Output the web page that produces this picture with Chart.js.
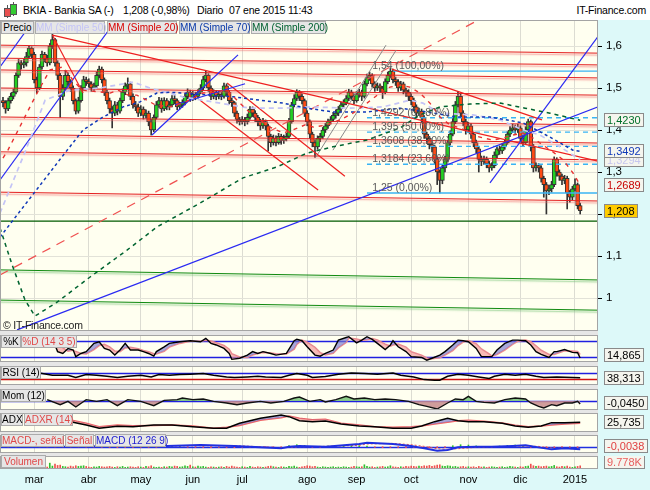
<!DOCTYPE html>
<html>
<head>
<meta charset="utf-8">
<script src="https://cdn.jsdelivr.net/npm/chart.js@4.4.1/dist/chart.umd.min.js"></script>
<style>
  body { margin: 0; width: 650px; height: 490px; position: relative; overflow: hidden; background: #e6e6e6;
         font-family: "Liberation Sans", Arial, sans-serif; }
  .abs { position: absolute; }
  #head { left: 0; top: 0; width: 650px; height: 20px; background: #fff; }
  #rightcol { left: 598px; top: 20px; width: 52px; height: 450px; background: #ddf9f9; }
  #xstrip { left: 0; top: 469px; width: 650px; height: 21px; background: #ddf9f9; }
  canvas { position: absolute; left: 0; }
  .txt { position: absolute; font-size: 10.5px; letter-spacing: -0.2px; white-space: nowrap; z-index: 5; }
  .tag { position: absolute; height: 11px; line-height: 11px; font-size: 10px; text-align: center;
         background: #e6e6e6; border: 1px solid #ababab; white-space: nowrap; z-index: 5; }
</style>
</head>
<body>
<div id="head" class="abs"></div>
<div id="rightcol" class="abs"></div>
<div id="xstrip" class="abs"></div>

<!-- little candle icon -->
<div class="abs" style="left:7px;top:5px;width:1px;height:13px;background:#555;z-index:5"></div>
<div class="abs" style="left:4px;top:8px;width:5px;height:7px;background:#e85050;border:1px solid #555;z-index:6"></div>
<div class="abs" style="left:13px;top:2px;width:1px;height:14px;background:#555;z-index:5"></div>
<div class="abs" style="left:10px;top:4px;width:5px;height:9px;background:#33cc33;border:1px solid #555;z-index:6"></div>

<span class="txt" style="left:23px;top:4px">BKIA - Bankia SA (-)</span>
<span class="txt" style="left:123px;top:4px">1,208 (-0,98%)</span>
<span class="txt" style="left:197px;top:4px">Diario</span>
<span class="txt" style="left:229px;top:4px">07 ene 2015 11:43</span>
<span class="txt" style="right:4px;top:4px">IT-Finance.com</span>

<span class="tag" style="left:1px;top:21px;width:31px">Precio</span>
<span class="tag" style="left:35px;top:21px;width:68px;color:#c4c4f6">MM (Simple 50)</span>
<span class="tag" style="left:107px;top:21px;width:68px;color:#d80000">MM (Simple 20)</span>
<span class="tag" style="left:179px;top:21px;width:69px;color:#0838a8">MM (Simple 70)</span>
<span class="tag" style="left:251px;top:21px;width:73px;color:#006030">MM (Simple 200)</span>

<span class="txt" style="left:3px;top:319px;font-size:10.5px;color:#222">&copy; IT-Finance.com</span>

<span class="tag" style="left:1px;top:335px;width:18px">%K</span>
<span class="tag" style="left:21px;top:335px;width:54px;color:#e04848">%D (14 3 5)</span>
<span class="tag" style="left:1px;top:366px;width:38px">RSI (14)</span>
<span class="tag" style="left:1px;top:389px;width:43px">Mom (12)</span>
<span class="tag" style="left:1px;top:413px;width:20px">ADX</span>
<span class="tag" style="left:24px;top:413px;width:47px;color:#e04848">ADXR (14)</span>
<span class="tag" style="left:1px;top:434px;width:61px;color:#e04848">MACD-, señal</span>
<span class="tag" style="left:65px;top:434px;width:27px;color:#e04848">Señal</span>
<span class="tag" style="left:95px;top:434px;width:69px;color:#2020d0">MACD (12 26 9)</span>
<span class="tag" style="left:1px;top:455px;width:43px;color:#e04848">Volumen</span>

<canvas id="cMain" width="650" height="311" style="top:20px"></canvas>
<canvas id="cStoch" width="650" height="27" style="top:335px"></canvas>
<canvas id="cRsi" width="650" height="19" style="top:366px"></canvas>
<canvas id="cMom" width="650" height="21" style="top:389px"></canvas>
<canvas id="cAdx" width="650" height="19" style="top:413px"></canvas>
<canvas id="cMacd" width="650" height="18" style="top:435px"></canvas>
<canvas id="cVol" width="650" height="34" style="top:456px"></canvas>

<script>
// ---------- values ----------
const monthLabels = ['mar', 'abr', 'may', 'jun', 'jul', 'ago', 'sep', 'oct', 'nov', 'dic', '2015'];
const monthStarts = [12, 33, 53, 73, 92, 117, 136, 157, 179, 199, 220];   // trading-day index of each month
const priceTicks = [1, 1.1, 1.2, 1.3, 1.4, 1.5, 1.6];

const opens = [1.47,1.465,1.45,1.47,1.48,1.49,1.53,1.56,1.555,1.56,
  1.575,1.595,1.58,1.52,1.50,1.55,1.58,1.57,1.56,1.60,
  1.615,1.56,1.53,1.48,1.50,1.53,1.515,1.50,1.47,1.445,
  1.47,1.50,1.52,1.515,1.51,1.50,1.505,1.53,1.545,1.52,
  1.49,1.47,1.45,1.44,1.46,1.445,1.47,1.49,1.505,1.51,
  1.48,1.46,1.455,1.44,1.45,1.435,1.44,1.42,1.40,1.43,
  1.46,1.47,1.45,1.47,1.455,1.46,1.475,1.47,1.455,1.46,
  1.465,1.48,1.49,1.475,1.485,1.48,1.49,1.50,1.52,1.53,
  1.50,1.48,1.49,1.48,1.485,1.48,1.505,1.49,1.47,1.465,
  1.44,1.425,1.42,1.425,1.42,1.43,1.45,1.44,1.43,1.42,
  1.41,1.42,1.41,1.385,1.37,1.38,1.37,1.385,1.375,1.38,
  1.385,1.42,1.46,1.475,1.49,1.48,1.47,1.44,1.42,1.39,
  1.37,1.36,1.38,1.385,1.40,1.41,1.42,1.425,1.435,1.44,
  1.45,1.46,1.465,1.475,1.49,1.48,1.47,1.485,1.49,1.48,
  1.51,1.525,1.53,1.51,1.50,1.505,1.50,1.49,1.515,1.53,
  1.54,1.52,1.515,1.50,1.51,1.495,1.49,1.48,1.47,1.455,
  1.44,1.445,1.43,1.39,1.38,1.365,1.36,1.33,1.30,1.28,
  1.31,1.33,1.37,1.39,1.42,1.46,1.48,1.44,1.42,1.40,
  1.41,1.39,1.37,1.355,1.33,1.325,1.33,1.32,1.31,1.315,
  1.34,1.355,1.35,1.36,1.37,1.39,1.40,1.405,1.40,1.405,
  1.38,1.37,1.40,1.42,1.36,1.31,1.315,1.31,1.285,1.27,
  1.255,1.26,1.27,1.33,1.30,1.29,1.28,1.285,1.25,1.24,
  1.26,1.27,1.22];
const closes = [1.465,1.45,1.47,1.48,1.49,1.53,1.56,1.555,1.56,1.575,
  1.595,1.58,1.52,1.50,1.55,1.58,1.57,1.56,1.60,1.615,
  1.56,1.53,1.48,1.50,1.53,1.515,1.50,1.47,1.445,1.47,
  1.50,1.52,1.515,1.51,1.50,1.505,1.53,1.545,1.52,1.49,
  1.47,1.45,1.44,1.46,1.445,1.47,1.49,1.505,1.51,1.48,
  1.46,1.455,1.44,1.45,1.435,1.44,1.42,1.40,1.43,1.46,
  1.47,1.45,1.47,1.455,1.46,1.475,1.47,1.455,1.46,1.465,
  1.48,1.49,1.475,1.485,1.48,1.49,1.50,1.52,1.53,1.50,
  1.48,1.49,1.48,1.485,1.48,1.505,1.49,1.47,1.465,1.44,
  1.425,1.42,1.425,1.42,1.43,1.45,1.44,1.43,1.42,1.41,
  1.42,1.41,1.385,1.37,1.38,1.37,1.385,1.375,1.38,1.385,
  1.42,1.46,1.475,1.49,1.48,1.47,1.44,1.42,1.39,1.37,
  1.36,1.38,1.385,1.40,1.41,1.42,1.425,1.435,1.44,1.45,
  1.46,1.465,1.475,1.49,1.48,1.47,1.485,1.49,1.48,1.51,
  1.525,1.53,1.51,1.50,1.505,1.50,1.49,1.515,1.53,1.54,
  1.52,1.515,1.50,1.51,1.495,1.49,1.48,1.47,1.455,1.44,
  1.445,1.43,1.39,1.38,1.365,1.36,1.33,1.30,1.28,1.31,
  1.33,1.37,1.39,1.42,1.46,1.48,1.44,1.42,1.40,1.41,
  1.39,1.37,1.355,1.33,1.325,1.33,1.32,1.31,1.315,1.34,
  1.355,1.35,1.36,1.37,1.39,1.40,1.405,1.40,1.405,1.38,
  1.37,1.40,1.42,1.36,1.31,1.315,1.31,1.285,1.27,1.255,
  1.26,1.27,1.33,1.30,1.29,1.28,1.285,1.25,1.24,1.26,
  1.27,1.22,1.208];
const highs = [1.478,1.47,1.476,1.488,1.497,1.536,1.568,1.566,1.568,1.585,
  1.60,1.598,1.585,1.526,1.556,1.588,1.585,1.578,1.606,1.628,
  1.618,1.565,1.535,1.508,1.542,1.536,1.52,1.505,1.474,1.478,
  1.506,1.528,1.526,1.522,1.515,1.512,1.538,1.552,1.55,1.524,
  1.495,1.476,1.456,1.468,1.466,1.476,1.498,1.512,1.524,1.514,
  1.486,1.468,1.462,1.458,1.455,1.448,1.445,1.425,1.436,1.468,
  1.478,1.476,1.477,1.475,1.468,1.482,1.482,1.474,1.466,1.472,
  1.486,1.498,1.495,1.492,1.49,1.496,1.508,1.528,1.54,1.534,
  1.505,1.496,1.494,1.492,1.49,1.512,1.51,1.494,1.476,1.468,
  1.445,1.43,1.432,1.43,1.438,1.456,1.455,1.446,1.435,1.426,
  1.428,1.424,1.414,1.39,1.388,1.386,1.392,1.39,1.388,1.392,
  1.428,1.466,1.484,1.496,1.494,1.486,1.474,1.446,1.424,1.395,
  1.376,1.386,1.392,1.406,1.416,1.426,1.432,1.442,1.448,1.456,
  1.466,1.472,1.482,1.497,1.495,1.486,1.492,1.497,1.495,1.517,
  1.533,1.538,1.534,1.515,1.512,1.51,1.504,1.522,1.538,1.548,
  1.545,1.526,1.52,1.516,1.514,1.50,1.496,1.486,1.476,1.46,
  1.452,1.45,1.434,1.395,1.385,1.372,1.364,1.336,1.305,1.318,
  1.338,1.376,1.398,1.428,1.468,1.492,1.485,1.446,1.426,1.418,
  1.415,1.395,1.376,1.36,1.338,1.338,1.336,1.326,1.322,1.348,
  1.362,1.362,1.368,1.378,1.396,1.408,1.414,1.412,1.414,1.41,
  1.386,1.408,1.426,1.424,1.366,1.322,1.32,1.315,1.29,1.275,
  1.268,1.278,1.336,1.334,1.305,1.295,1.292,1.29,1.256,1.266,
  1.284,1.274,1.226];
const lows = [1.455,1.44,1.446,1.464,1.474,1.486,1.525,1.545,1.548,1.552,
  1.57,1.572,1.512,1.488,1.496,1.545,1.562,1.552,1.555,1.594,
  1.552,1.52,1.43,1.472,1.495,1.506,1.492,1.462,1.438,1.44,
  1.466,1.495,1.506,1.502,1.492,1.494,1.50,1.524,1.512,1.482,
  1.462,1.44,1.405,1.434,1.436,1.44,1.465,1.484,1.498,1.472,
  1.452,1.446,1.432,1.434,1.426,1.428,1.41,1.388,1.396,1.426,
  1.454,1.442,1.446,1.448,1.448,1.455,1.462,1.448,1.45,1.454,
  1.46,1.474,1.468,1.47,1.472,1.475,1.486,1.496,1.515,1.492,
  1.472,1.474,1.472,1.474,1.472,1.476,1.482,1.462,1.456,1.432,
  1.416,1.412,1.414,1.41,1.414,1.426,1.432,1.42,1.41,1.40,
  1.404,1.40,1.35,1.36,1.364,1.362,1.366,1.366,1.368,1.374,
  1.38,1.416,1.455,1.47,1.47,1.462,1.432,1.41,1.38,1.36,
  1.335,1.354,1.372,1.38,1.394,1.404,1.414,1.42,1.428,1.434,
  1.444,1.454,1.46,1.47,1.472,1.462,1.466,1.478,1.47,1.476,
  1.505,1.518,1.502,1.492,1.494,1.49,1.475,1.486,1.51,1.524,
  1.512,1.506,1.492,1.494,1.486,1.48,1.47,1.46,1.446,1.43,
  1.434,1.42,1.38,1.368,1.355,1.348,1.32,1.27,1.25,1.272,
  1.30,1.325,1.364,1.386,1.415,1.455,1.432,1.41,1.39,1.394,
  1.38,1.36,1.345,1.30,1.315,1.318,1.31,1.30,1.304,1.31,
  1.334,1.342,1.344,1.354,1.366,1.384,1.394,1.392,1.394,1.372,
  1.362,1.366,1.396,1.35,1.30,1.302,1.30,1.276,1.24,1.20,
  1.246,1.252,1.265,1.29,1.28,1.27,1.272,1.212,1.228,1.234,
  1.255,1.212,1.20];
const volumes = [6,5,7,6,8,7,9,6,5,7, 8,6,9,7,6,8,7,6,18,9, 15,11,12,8,7,6,9,7,10,8,
  9,10,8,6,5,7,6,8,7,6, 7,8,6,5,7,6,8,5,6,7, 6,5,7,6,5,8,7,10,6,5,
  6,5,7,6,8,7,9,8,6,7, 10,8,12,7,6,9,7,8,6,5, 7,6,5,6,7,5,8,6,9,7,
  6,5,7,6,5,8,6,5,7,6, 5,6,8,9,7,6,5,7,6,5, 8,7,9,6,5,7,8,10,9,7,
  8,6,5,7,6,5,6,7,5,6, 5,7,6,5,6,8,7,6,7,13, 8,6,7,5,6,7,8,6,7,10,
  7,6,5,7,6,8,7,9,8,7, 9,8,10,9,11,8,10,12,13,9, 8,10,9,7,8,6,7,8,6,7,
  6,7,5,8,6,7,5,6,7,6, 5,6,7,5,6,8,7,6,5,7, 6,8,9,15,10,8,9,7,8,9,
  7,8,11,7,6,8,7,9,6,5, 7,8,9.778];

// moving averages, [trading day, price]
const mm20 = [[0,1.333],[1.9,1.352],[13.1,1.488],[18.1,1.543],[23.1,1.55],[26.9,1.519],[30.4,1.495],[41.2,1.488],
  [44.2,1.495],[48.1,1.483],[51.5,1.483],[55.4,1.471],[58.5,1.46],[64.2,1.455],[69.2,1.464],[73.1,1.476],
  [76.9,1.488],[80.8,1.49],[86.2,1.495],[90,1.471],[93.8,1.448],[97.7,1.429],[102.7,1.407],[107.7,1.393],
  [111.5,1.40],[116.9,1.414],[119.2,1.407],[124.6,1.412],[129.6,1.424],[134.6,1.44],[140,1.464],[145,1.488],
  [148.8,1.502],[152.7,1.507],[156.5,1.502],[160.4,1.488],[164.2,1.464],[168.1,1.431],[171.9,1.412],[175.8,1.405],
  [180.8,1.388],[184.6,1.381],[188.5,1.376],[192.3,1.381],[196.2,1.388],[200,1.393],[203.8,1.381],[207.7,1.364],
  [211.5,1.348],[215.4,1.329],[219.2,1.298],[222,1.2689]];
const mm50 = [[-1.15,1.202],[8.5,1.348],[16.2,1.471],[25.8,1.495],[37.3,1.50],[50,1.514],[56.5,1.50],[69.2,1.479],
  [95,1.452],[107.7,1.452],[118.1,1.455],[133.5,1.452],[146.2,1.455],[156.5,1.471],[161.5,1.464],[168.1,1.44],
  [180.8,1.436],[191.2,1.424],[200,1.40],[206.5,1.388],[214.2,1.36],[222,1.3294]];
const mm70 = [[-1.15,1.145],[23.8,1.345],[30.8,1.40],[38.5,1.431],[46.2,1.455],[52.7,1.467],[59.2,1.488],[64.2,1.49],
  [88.5,1.479],[98.8,1.471],[107.7,1.464],[116.9,1.452],[126.9,1.443],[140,1.443],[152.7,1.452],[163.1,1.443],
  [174.6,1.431],[187.3,1.431],[200,1.417],[210.4,1.383],[219.2,1.352],[222,1.3492]];
const mm200 = [[-1.15,1.167],[3.5,1.079],[8.5,0.995],[12.3,0.957],[20.8,0.99],[33.5,1.05],[47.7,1.114],[59.2,1.169],
  [75.8,1.226],[92.3,1.286],[105.4,1.312],[116.9,1.345],[126.9,1.36],[140,1.376],[152.7,1.405],[160.4,1.436],
  [168.1,1.455],[179.6,1.462],[191.2,1.464],[200.8,1.452],[210.4,1.44],[222,1.423]];

// drawn lines: [day1, price1, day2, price2]; levels: [price at left edge, price at right edge]
const redLevels = [[1.602,1.583],[1.571,1.555],[1.543,1.524],[1.50,1.483],[1.431,1.412],[1.39,1.369],[1.348,1.329],[1.252,1.231]];
const greenLevels = [[1.067,1.043],[0.995,0.971]];
const darkGreenLevel = [1.183,1.183];
const redTrends = [[19,1.626,228.85,1.326],[19,1.626,30.8,1.488],[149.6,1.545,207.3,1.424],[86.2,1.512,131.5,1.29],[75.8,1.471,121.2,1.257]];
const blueTrends = [[5.4,0.924,229.6,1.457],[187.3,1.274,229.6,1.629],[-1.15,1.55,11.9,1.662],[-1.15,1.281,43.5,1.662],
  [57.3,1.388,90.4,1.579],[66.2,1.46,93.1,1.51]];
const grayTrends = [[120.4,1.336,147.3,1.602],[126.9,1.352,151.2,1.59]];
const dashedTrend = [-1.15,1.055,183.5,1.664];
const fibLevels = [1.54, 1.4292, 1.395, 1.3608, 1.3184, 1.25];
const fibPcts = ['100,00%', '61,80%', '50,00%', '38,20%', '23,60%', '0,00%'];
const fibStart = [150, 140, 140, 140, 140, 140];

// indicators
const stochDays = [13,15,17,19,21,23,25,27,28,30,32,35,37,39,41,43,45,47,49,52,54,56,58,59,62,64,68,72,76,78,
  80,82,85,87,88,91,94,96,98,100,103,105,109,112,113,115,117,120,122,124,127,129,132,133,136,138,140,142,144,147,
  149,150,152,155,157,161,163,165,168,170,173,175,177,179,182,184,187,188,190,193,196,198,201,203,205,207,210,212,213,216,
  219,221,222];
const stochK = [60,57,80,89,39,32,51,45,20,32,39,70,76,51,45,26,45,70,45,45,39,32,22,39,57,70,76,80,76,89,
  70,64,51,32,10,14,26,39,32,39,32,26,32,80,85,80,57,26,22,32,45,82,92,95,72,82,95,85,70,47,
  64,80,57,39,20,17,7,14,26,39,64,82,80,76,51,20,20,20,45,70,82,82,80,64,39,29,17,39,39,47,
  36,35,14.865];
const stochD = [60,58,66,75,69,53,41,44,39,32,30,47,62,66,57,41,39,53,55,50,43,38,31,30,40,56,70,78,78,82,
  79,72,62,48,31,19,17,26,32,36,34,31,30,48,66,82,74,55,35,27,33,53,73,90,86,82,84,88,83,67,
  60,64,67,56,38,25,15,12,16,26,43,62,75,80,69,49,30,22,28,45,66,78,82,76,61,44,28,28,32,42,
  41,39,28];
const rsiDays = [14,19,25,28,32,36,40,44,48,53,57,60,64,68,72,77,81,86,89,94,98,101,107,110,113,117,119,124,129,134,
  139,144,150,153,158,162,166,168,171,175,179,183,187,189,193,197,201,205,208,213,219,222];
const rsiVals = [70,55,55,40,60,55,48,40,48,55,44,60,55,60,62,66,55,44,40,44,48,44,40,55,66,55,40,46,62,70,
  66,62,70,55,44,26,22,22,48,62,55,44,33,48,62,55,62,48,40,44,40,38.313];
const momDays = [17,22,25,28,32,36,40,44,48,53,58,62,67,69,73,77,81,86,90,94,99,103,108,112,114,118,122,124,128,132,
  135,139,143,147,151,156,160,163,167,171,174,177,179,182,185,189,193,197,201,203,206,208,211,213,216,219,221,222];
const momVals = [0.02,-0.055,-0.005,-0.09,0.02,-0.005,0.02,-0.07,0.02,-0.005,-0.07,0.01,0.02,0.045,0.02,0.03,-0.005,-0.03,-0.055,-0.03,
  -0.005,-0.03,-0.005,0.045,0.06,-0.005,0.02,-0.015,0.02,0.07,0.03,0.045,0.02,0.03,0.02,-0.005,-0.055,-0.08,-0.12,-0.03,
  0.03,0.02,0.07,-0.005,-0.02,-0.03,0.02,0.045,0.03,-0.03,-0.08,-0.105,-0.055,-0.07,-0.03,-0.03,-0.005,-0.045];
const adxDays = [26,32,37,44,50,58,65,73,81,86,91,99,107,110,114,119,124,130,137,143,150,157,161,166,171,175,179,185,192,197,
  202,207,211,216,222];
const adxVals = [27,20.4,13.7,18,17,20.4,20.4,17,13.7,13.7,23.7,33.7,40.4,37,29,27,28.5,22.4,18.4,17,13.7,13.7,18.4,27,33.7,29,27,27,23.7,18.4,
  15.7,18.4,25,25,25.735];
const adxrVals = [30.4,23.7,17,20.4,19,19.5,20.4,18.4,13.7,16,19.5,30,35,38.4,34,31,32,23.7,20.4,17,16,17,18.4,22.4,26,29,30,28,24.5,20,
  17,18.5,20.4,22.4,23.7];
const macdDays = [0,25,44,63,76,89,99,107,110,114,124,137,140,150,157,162,167,171,175,182,188,196,201,206,211,216,222];
const macdVals = [0,0,0.001,0.001,0.0025,0.001,-0.001,-0.0025,0,0.001,0,0.004,0.006,0.004,0.001,-0.0025,-0.006,-0.005,-0.001,0,
  0,0.001,0.002,-0.001,-0.004,-0.0025,-0.004];
const signalVals = [0,0,0.0005,0.001,0.0015,0.0015,0,-0.0015,-0.001,0,0.0005,0.002,0.004,0.005,0.003,0.0005,-0.003,-0.004,-0.003,-0.001,
  0,0.0005,0.001,0.0005,-0.002,-0.0025,-0.0038];
const macdHist = [[2,-0.001],[5,-0.0012],[8,0.0008],[11,0.0012],[14,-0.0008],[17,-0.0012],[20,-0.0015],[23,-0.001],[26,-0.0012],
  [29,-0.0008],[32,-0.001],[35,-0.0008],[38,-0.001],[41,-0.0012],[44,-0.0015],[47,-0.001],[50,-0.0012],[53,-0.0008],[56,-0.001],
  [59,-0.0008],[62,0.001],[65,0.0015],[68,0.0012],[71,-0.0008],[74,-0.001],[77,-0.0012],[80,-0.0015],[83,-0.001],[86,-0.0012],
  [89,-0.0015],[92,-0.001],[95,-0.0012],[98,-0.001],[101,-0.0012],[104,-0.0008],[107,-0.001],[110,0.0015],[113,0.003],[116,0.002],
  [119,-0.001],[122,-0.0012],[125,0.0008],[128,0.001],[131,0.0015],[134,0.0012],[137,0.0015],[140,0.001],[143,-0.001],[146,-0.0015],
  [149,-0.001],[152,-0.0012],[155,-0.0015],[158,-0.0012],[161,-0.0015],[164,-0.002],[167,-0.0015],[170,-0.001],[173,0.0015],
  [176,0.003],[179,0.0025],[182,0.0012],[185,-0.0008],[188,-0.001],[191,0.001],[194,0.002],[197,0.0025],[200,0.0015],[203,-0.001],
  [206,-0.0015],[209,-0.002],[212,-0.0012],[215,-0.001],[218,-0.0012],[221,-0.0012]];

// ---------- drawing ----------
const X_MIN = -1.15, X_MAX = 228.85;
const CREAM = '#fffff0';

const deco = {
  id: 'deco',
  beforeDraw(chart) {
    const { ctx, chartArea: a } = chart;
    ctx.save();
    ctx.fillStyle = CREAM;
    ctx.fillRect(a.left, a.top, a.right - a.left, a.bottom - a.top);
    ctx.restore();
  },
  beforeDatasetsDraw(chart, args, o) {
    const { ctx, chartArea: a } = chart, y = chart.scales.y;
    (o.refs || []).forEach(r => {
      const py = Math.round(y.getPixelForValue(r.value)) + 0.5;
      ctx.save();
      ctx.strokeStyle = r.color;
      ctx.lineWidth = 1.4;
      ctx.beginPath(); ctx.moveTo(a.left, py); ctx.lineTo(a.right, py); ctx.stroke();
      ctx.restore();
    });
  },
  beforeDatasetDraw(chart, args) {
    const ds = chart.data.datasets[args.index];
    chart.ctx.save();
    if (ds.glow) {
      chart.ctx.shadowColor = ds.glow;
      chart.ctx.shadowOffsetY = 2;
      chart.ctx.shadowBlur = 1.5;
    }
  },
  afterDatasetDraw(chart) {
    chart.ctx.restore();
  },
  afterDatasetsDraw(chart, args, o) {
    if (!o.fib) return;
    const { ctx } = chart, x = chart.scales.x, y = chart.scales.y;
    ctx.save();
    ctx.font = '10.5px "Liberation Sans", Arial';
    ctx.fillStyle = '#5a5a5a';
    o.fib.levels.forEach((lv, i) => {
      const txt = String(lv).replace('.', ',') + ' (' + o.fib.pcts[i] + ')';
      ctx.fillText(txt, x.getPixelForValue(o.fib.day), y.getPixelForValue(lv) - 2);
    });
    ctx.restore();
  },
  afterDraw(chart, args, o) {
    const { ctx, chartArea: a } = chart, y = chart.scales.y;
    ctx.save();
    ctx.strokeStyle = '#a4a4a4';
    ctx.lineWidth = 1;
    ctx.strokeRect(a.left + 0.5, a.top + 0.5, a.right - a.left - 1, a.bottom - a.top - 1);
    ctx.font = '11px "Liberation Sans", Arial';
    ctx.textBaseline = 'middle';
    (o.boxes || []).forEach(b => {
      let py = y.getPixelForValue(b.value);
      py = Math.round(Math.min(Math.max(py, a.top + 7), a.bottom - 7));
      const w = Math.ceil(ctx.measureText(b.text).width) + 5;
      const bx = a.right + 6;
      ctx.fillStyle = b.bg || '#f5f5ee';
      ctx.fillRect(bx, py - 6, w, 12);
      ctx.strokeStyle = '#8a8a8a';
      ctx.strokeRect(bx + 0.5, py - 6.5, w, 13);
      ctx.fillStyle = b.color;
      ctx.fillText(b.text, bx + 3, py + 0.5);
    });
    ctx.restore();
  }
};
Chart.register(deco);
Chart.defaults.font.family = '"Liberation Sans", Arial, sans-serif';
Chart.defaults.font.size = 10;
Chart.defaults.color = '#000';

const pts = arr => arr.map(([x, y]) => ({ x, y }));
const zip = (xs, ys) => xs.map((x, i) => ({ x, y: ys[i] }));
const seg = t => [{ x: t[0], y: t[1] }, { x: t[2], y: t[3] }];
const level = p => [{ x: X_MIN, y: p[0] }, { x: X_MAX, y: p[1] }];
const last = arr => arr[arr.length - 1];
const isUp = i => closes[i] >= opens[i];
const fmt = (v, d) => v.toFixed(d).replace('.', ',');

function line(data, color, extra) {
  return Object.assign({ type: 'line', data, borderColor: color, borderWidth: 1, pointRadius: 0,
                         tension: 0, fill: false }, extra || {});
}

function panel(id, datasets, yMin, yMax, o) {
  o = o || {};
  return new Chart(document.getElementById(id), {
    type: 'bar',
    data: { datasets },
    options: {
      responsive: false,
      animation: false,
      events: [],
      layout: { autoPadding: false, padding: 0 },
      plugins: { legend: { display: false }, tooltip: { enabled: false }, deco: o.deco || {} },
      scales: {
        x: {
          type: 'linear', min: X_MIN, max: X_MAX, offset: false,
          afterBuildTicks: s => { s.ticks = monthStarts.map(v => ({ value: v })); },
          afterFit: s => { s.height = o.xLabels ? 21 : 0; },
          grid: { color: '#dcdcd2', offset: false, drawTicks: false },
          border: { display: false },
          ticks: { display: !!o.xLabels, autoSkip: false, maxRotation: 0, padding: 4,
                   font: { size: 11 }, callback: (v, i) => monthLabels[i] }
        },
        y: Object.assign({
          position: 'right', min: yMin, max: yMax,
          afterFit: s => { s.width = 52; s.paddingTop = 0; s.paddingBottom = 0; },
          border: { display: false },
          grid: { display: false, drawTicks: false },
          ticks: { display: false }
        }, o.y || {})
      }
    }
  });
}

// main price panel
const mainSets = [
  line(pts(mm20), '#e83030', { borderWidth: 1.4, borderDash: [4, 5] }),
  line(pts(mm70), '#1038b8', { borderWidth: 1.5, borderDash: [3, 3] }),
  line(pts(mm50), '#c4c4f6', { borderWidth: 1.7, borderDash: [5, 4] }),
  line(pts(mm200), '#006430', { borderWidth: 1.5, borderDash: [4, 4] }),
  ...blueTrends.map(t => line(seg(t), '#2a2af2', { borderWidth: 1.2 })),
  ...redTrends.map(t => line(seg(t), '#ee2020', { borderWidth: 1.2 })),
  ...grayTrends.map(t => line(seg(t), '#8a8a8a')),
  line(seg(dashedTrend), '#f05050', { borderWidth: 1.2, borderDash: [9, 7] }),
  ...fibLevels.map((lv, i) => line([{ x: fibStart[i], y: lv }, { x: X_MAX, y: lv }], '#38b4f4',
      { borderWidth: 1.3, borderDash: (i === 0 || i === fibLevels.length - 1) ? [] : [5, 4] })),
  ...redLevels.map(p => line(level(p), '#e42020', { glow: 'rgba(240,110,110,0.75)' })),
  ...greenLevels.map(p => line(level(p), '#108a10', { glow: 'rgba(110,190,110,0.75)' })),
  line(level(darkGreenLevel), '#005a00', { borderWidth: 1.2 }),
  { type: 'bar', data: closes.map((c, i) => ({ x: i, y: [opens[i], c] })), grouped: false,
    barThickness: 4, borderWidth: 1, borderSkipped: false, borderColor: '#333',
    backgroundColor: ctx => isUp(ctx.dataIndex) ? '#22d022' : '#ff4a12' },
  { type: 'bar', data: closes.map((c, i) => ({ x: i, y: [lows[i], highs[i]] })), grouped: false,
    barThickness: 1, backgroundColor: '#333' }
];
panel('cMain', mainSets, 1.6 - (331 - 46) / 420, 1.6 + (46 - 20) / 420, {
  deco: {
    fib: { levels: fibLevels, pcts: fibPcts, day: 142 },
    boxes: [
      { value: last(mm200)[1], text: fmt(last(mm200)[1], 4), color: '#00702a' },
      { value: last(mm50)[1], text: fmt(last(mm50)[1], 4), color: '#c6c6ee' },
      { value: last(mm70)[1], text: fmt(last(mm70)[1], 4), color: '#1038b8' },
      { value: last(mm20)[1], text: fmt(last(mm20)[1], 4), color: '#c80000' },
      { value: last(closes), text: fmt(last(closes), 3), color: '#000', bg: '#ffcc00' }
    ]
  },
  y: {
    afterBuildTicks: s => { s.ticks = priceTicks.map(v => ({ value: v })); },
    grid: { display: true, color: '#e2e2d8', tickColor: '#000', tickLength: 4 },
    ticks: { display: true, padding: 4, font: { size: 11.5 }, callback: v => String(v).replace('.', ',') }
  }
});

// stochastic
panel('cStoch', [
  line(zip(stochDays, stochK), '#000', { borderWidth: 1.4,
    fill: { target: 1, above: 'rgba(120,120,205,0.65)', below: 'rgba(242,150,150,0.65)' } }),
  line(zip(stochDays, stochD), '#f08c8c', { borderWidth: 1.6 })
], 0, 101.4, {
  deco: { refs: [{ value: 80, color: '#2020e0' }, { value: 20, color: '#2020e0' }],
          boxes: [{ value: last(stochK), text: fmt(last(stochK), 3), color: '#000' }] },
  y: { afterBuildTicks: s => { s.ticks = [0, 50, 100].map(v => ({ value: v })); },
       ticks: { display: true, padding: 9, labelOffset: 3, font: { size: 11 } } }
});

// RSI
panel('cRsi', [
  line(zip(rsiDays, rsiVals), '#000', { borderWidth: 1.5 })
], -10, 116.7, {
  deco: { refs: [{ value: 70, color: '#2020e0' }, { value: 30, color: '#d01010' }],
          boxes: [{ value: last(rsiVals), text: fmt(last(rsiVals), 3), color: '#000' }] },
  y: { afterBuildTicks: s => { s.ticks = [0, 100].map(v => ({ value: v })); },
       ticks: { display: true, padding: 9, font: { size: 11 } } }
});

// momentum
panel('cMom', [
  line(zip(momDays, momVals), '#111', { borderWidth: 1.4,
    fill: { target: { value: 0 }, above: 'rgba(120,195,120,0.85)', below: 'rgba(200,140,140,0.85)' } })
], -0.135, 0.18, {
  deco: { refs: [{ value: 0, color: '#2020e0' }],
          boxes: [{ value: last(momVals), text: fmt(last(momVals), 4), color: '#000' }] }
});

// ADX
panel('cAdx', [
  line(zip(adxDays, adxVals), '#000', { borderWidth: 1.5,
    fill: { target: 1, above: 'rgba(120,120,205,0.65)', below: 'rgba(242,150,150,0.65)' } }),
  line(zip(adxDays, adxrVals), '#f06060', { borderWidth: 1.5 })
], 6.3, 44.3, {
  deco: { boxes: [{ value: last(adxVals), text: fmt(last(adxVals), 3), color: '#000' }] }
});

// MACD
panel('cMacd', [
  line(zip(macdDays, macdVals), '#2030e0', { borderWidth: 2 }),
  line(zip(macdDays, signalVals), '#f05050', { borderWidth: 1, borderDash: [2, 2] }),
  { type: 'bar', data: pts(macdHist), barThickness: 1, grouped: false,
    backgroundColor: ctx => ctx.raw.y >= 0 ? '#30c030' : '#f05050' }
], -0.00945, 0.01755, {
  deco: { refs: [{ value: 0, color: '#2030e0' }],
          boxes: [{ value: last(signalVals), text: fmt(last(signalVals), 4), color: '#e04040' }] }
});

// volume + month axis
panel('cVol', [
  { type: 'bar', data: volumes.map((v, i) => ({ x: i, y: v })), barThickness: 1, grouped: false,
    backgroundColor: ctx => isUp(ctx.dataIndex) ? '#30c030' : '#f05050' }
], 0, 40, {
  xLabels: true,
  deco: { boxes: [{ value: last(volumes), text: last(volumes).toFixed(3) + 'K', color: '#e86060' }] }
});
</script>
</body>
</html>
